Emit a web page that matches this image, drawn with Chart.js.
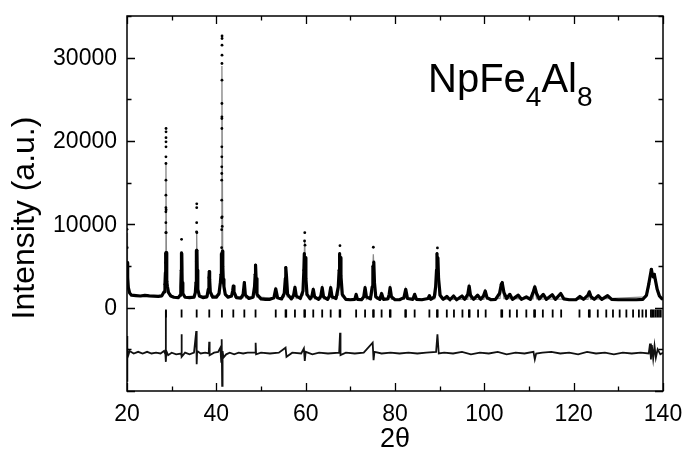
<!DOCTYPE html>
<html>
<head>
<meta charset="utf-8">
<script src="https://cdn.jsdelivr.net/npm/chart.js@4/dist/chart.umd.min.js"></script>
<style>
  html, body { margin: 0; padding: 0; background: #fff; overflow: hidden; }
  #wrap { width: 683px; height: 462px; position: relative; }
</style>
</head>
<body>
<div id="wrap"><canvas id="myChart"></canvas></div>
<script>
// observed profile [2theta, counts] (dots on the tall peaks included)
const obsProfile = [
  [20.0, 9400], [20.04, 7200], [20.08, 5400], [20.15, 3600], [20.3, 2400], [20.6, 1750], [21.0, 1500],
  [22.0, 1450], [23.0, 1400], [24.0, 1480], [25.0, 1420], [26.0, 1380], [27.0, 1350], [27.8, 1420], [28.3, 1900],
  [28.5, 2800], [28.6, 4200], [28.65, 5400], [28.68, 6600], [28.69, 9000], [28.7, 10200], [28.7, 11500],
  [28.71, 12000], [28.71, 13500], [28.72, 15300], [28.72, 17300], [28.72, 18100], [28.73, 19300], [28.73, 19900],
  [28.73, 20400], [28.74, 21100], [28.74, 21500], [28.76, 11750], [28.77, 9000], [28.79, 6600], [28.85, 4200],
  [28.95, 3150], [29.05, 2550], [29.3, 1800], [29.8, 1400], [30.5, 1250], [31.5, 1200], [31.9, 1500],
  [32.05, 2500], [32.15, 4500], [32.2, 6600], [32.22, 8200], [32.25, 6500], [32.35, 3000], [32.5, 1700],
  [33.0, 1250], [34.0, 1200], [35.0, 1250], [35.3, 1800],
  [35.45, 3000], [35.52, 5500], [35.56, 6900], [35.58, 9100], [35.6, 10200], [35.61, 12000], [35.62, 12460],
  [35.64, 9000], [35.66, 6900], [35.72, 4500], [35.85, 2200], [36.2, 1400], [37.0, 1200], [37.9, 1300],
  [38.2, 2200], [38.35, 3600], [38.42, 4330], [38.5, 3400], [38.65, 1900], [39.2, 1250], [40.0, 1250],
  [40.6, 1700], [40.9, 3000],
  [41.05, 4000], [41.12, 5000], [41.16, 6500], [41.18, 7200], [41.2, 9360], [41.2, 10800], [41.21, 12900],
  [41.21, 15300], [41.22, 16100], [41.22, 16900], [41.23, 18100], [41.23, 19300], [41.24, 21500], [41.24, 22700],
  [41.25, 22900], [41.25, 24500], [41.26, 27300], [41.26, 29300], [41.27, 30300], [41.27, 31500], [41.28, 32300],
  [41.28, 32600], [41.3, 10900], [41.32, 9750], [41.36, 6800], [41.45, 4950], [41.55, 3400], [41.7, 2550],
  [42.0, 1600], [42.6, 1250], [43.4, 1400],
  [43.65, 2000], [43.8, 2600], [43.95, 1900], [44.5, 1200], [45.5, 1150], [46.0, 1600], [46.27, 3000],
  [46.5, 1500], [47.3, 1100], [48.2, 1250], [48.55, 2500], [48.7, 4000], [48.78, 5100], [48.9, 3500],
  [49.1, 1600], [50.0, 1050], [51.0, 1000], [52.0, 1000], [52.9, 1200], [53.3, 2250], [53.7, 1200],
  [54.6, 1050], [55.2, 1700], [55.45, 3500], [55.55, 4800], [55.7, 3800], [55.95, 1600], [56.8, 1050],
  [57.3, 1500], [57.6, 2450], [57.9, 1400], [58.8, 1100], [59.4, 2000], [59.6, 4500], [59.7, 6500],
  [59.75, 8000], [59.8, 9000], [59.85, 7500], [59.9, 6000], [60.05, 3500], [60.3, 1600], [61.0, 1050],
  [61.4, 1400], [61.7, 2200], [62.0, 1300], [62.9, 1000], [63.4, 1400], [63.7, 2400], [64.0, 1300],
  [64.9, 1000], [65.3, 1400], [65.6, 2400], [65.9, 1300], [66.8, 1100], [67.3, 2500], [67.5, 4500],
  [67.6, 6500], [67.68, 7440], [67.78, 6000], [67.9, 3800], [68.2, 1600], [69.0, 1000], [70.0, 950],
  [71.0, 1000], [71.3, 1600], [71.6, 1000], [72.5, 950], [73.0, 1300], [73.3, 2400], [73.6, 1300],
  [74.5, 1050], [74.9, 2500], [75.05, 5000], [75.15, 7250], [75.25, 5500], [75.4, 3000], [75.7, 1300],
  [76.6, 1000], [77.0, 1700], [77.4, 1000], [78.4, 1050], [78.7, 1600], [78.9, 2400], [79.2, 1300],
  [80.0, 950], [81.0, 950], [82.0, 1200], [82.4, 2200], [82.8, 1100], [84.0, 1000], [84.4, 1600],
  [84.8, 1000], [86.0, 950], [87.4, 1100], [87.7, 1450], [88.0, 1000], [88.8, 1300], [89.1, 2500],
  [89.3, 4500], [89.4, 6500], [89.5, 7170], [89.6, 6000], [89.75, 3500], [90.1, 1500], [90.8, 1000],
  [91.6, 1350], [92.3, 950], [93.1, 1400], [93.8, 950], [95.0, 1400], [95.6, 1000], [96.3, 1600],
  [96.6, 2600], [96.9, 1500], [97.6, 1000], [98.5, 1500], [99.2, 1000], [99.8, 1400], [100.2, 2000],
  [100.6, 1200], [101.5, 950], [102.5, 1000], [103.4, 1700], [103.8, 2800], [104.0, 3000], [104.4, 1800],
  [105.0, 1100], [105.7, 1600], [106.3, 1000], [107.6, 1500], [108.3, 1000], [109.4, 1300], [110.3, 1000],
  [110.9, 1800], [111.3, 2500], [111.7, 1700], [112.3, 1050], [113.2, 1600], [113.9, 1000], [115.2, 1550],
  [115.9, 1000], [117.1, 1700], [117.8, 1050], [119.0, 950], [120.5, 950], [121.4, 1350], [122.2, 1000],
  [123.2, 1500], [123.5, 1900], [123.9, 1300], [124.6, 1000], [125.5, 1450], [126.3, 1000], [127.6, 1450],
  [128.5, 1000], [130.0, 950], [132.0, 950], [134.0, 950], [135.5, 1000], [136.3, 1500], [136.8, 2800],
  [137.2, 4000], [137.4, 4600], [137.6, 4000], [137.8, 3700], [138.05, 4000], [138.3, 3300], [138.7, 2200],
  [139.2, 1400], [139.7, 1100], [140.0, 1000]
];

// calculated profile (grey line)
const calcProfile = [
  [20.0, 9000], [20.1, 5000], [20.3, 2600], [20.6, 1700], [21.5, 1450], [25.0, 1400], [27.8, 1400],
  [28.4, 2000], [28.6, 4000], [28.72, 17400], [28.85, 3500], [29.2, 1800], [30.5, 1250], [31.8, 1300],
  [32.05, 2300], [32.2, 6600], [32.35, 2500], [32.8, 1300], [35.2, 1400], [35.45, 2800], [35.6, 9100],
  [35.75, 2800], [36.2, 1400], [38.1, 1400], [38.42, 3600], [38.7, 1400], [40.7, 1500], [41.05, 3500],
  [41.25, 29000], [41.45, 3500], [41.9, 1600], [43.5, 1300], [43.8, 2400], [44.1, 1250], [46.0, 1200],
  [46.27, 2800], [46.55, 1200], [48.5, 1300], [48.78, 4300], [49.05, 1300], [53.0, 1100], [53.3, 2100],
  [53.6, 1100], [55.25, 1300], [55.55, 4300], [55.85, 1300], [57.3, 1100], [57.6, 2300], [57.9, 1100],
  [59.45, 1500], [59.78, 8000], [60.1, 1500], [61.4, 1100], [61.7, 2100], [62.0, 1050], [63.4, 1050],
  [63.7, 2300], [64.0, 1050], [65.3, 1050], [65.6, 2300], [65.9, 1050], [67.35, 1500], [67.68, 6300],
  [68.05, 1400], [68.8, 1000], [72.9, 1000], [73.3, 2300], [73.6, 1000], [74.85, 1500], [75.15, 6400],
  [75.45, 1400], [76.0, 1000], [78.6, 1000], [78.9, 2300], [79.2, 1000], [82.1, 1000], [82.4, 2100],
  [82.7, 1000], [88.9, 1050], [89.15, 1600], [89.5, 5800], [89.85, 1500], [90.5, 1000], [96.3, 1000],
  [96.6, 2400], [96.9, 1000], [99.9, 1000], [100.2, 1900], [100.5, 1000], [103.5, 1100], [103.95, 2800],
  [104.4, 1100], [110.9, 1050], [111.3, 2400], [111.7, 1050], [123.2, 1000], [123.5, 1800], [123.8, 1000],
  [136.3, 1300], [136.9, 2600], [137.4, 4300], [137.8, 3600], [138.1, 3900], [138.8, 1700], [139.5, 1100],
  [140.0, 1000]
];

// Bragg reflection positions (2theta)
const braggPos = [
  28.72, 32.22, 35.6, 38.42, 41.25, 43.8, 46.27, 48.78, 53.3, 55.5, 55.65, 57.6, 59.7, 59.85, 61.7, 63.7,
  65.6, 67.6, 67.75, 71.3, 73.3, 75.1, 75.25, 77.0, 78.85, 79.0, 82.3, 82.45, 84.4, 87.7, 89.4, 89.55,
  91.6, 93.2, 95.1, 96.55, 96.7, 98.6, 100.3, 103.8, 104.0, 105.7, 107.3, 109.4, 111.15, 111.35, 113.1,
  115.3, 117.2, 121.3, 123.4, 123.6, 125.4, 127.3, 128.8, 130.3, 131.8, 133.3, 134.6, 135.4, 136.2, 137.3,
  137.6, 137.9, 138.3, 138.7, 139.1, 139.5
];
const braggLevel = -700;

// difference curve (obs - calc, offset)
const diffProfile = [
  [20.0, -3400], [20.05, -8900], [20.1, -4800], [20.3, -5700], [20.6, -5200], [21.5, -5500], [22.5, -5300],
  [23.5, -5500], [24.5, -5300], [25.5, -5500], [26.5, -5400], [27.5, -5500], [28.3, -5200], [28.6, -5600],
  [28.68, -300], [28.72, -6500], [28.8, -5200], [29.2, -5700], [30.0, -5400], [31.0, -5600], [32.1, -5500],
  [32.2, -3200], [32.28, -5900], [33.0, -5400], [34.0, -5600], [35.0, -5400], [35.5, -2800], [35.6, -6800],
  [35.7, -5200], [36.5, -5500], [37.5, -5400], [38.3, -5500], [38.4, -4100], [38.5, -5700], [39.5, -5400],
  [40.4, -5300], [40.9, -4800], [41.1, -6500], [41.2, -3800], [41.3, -9370], [41.4, -5200], [41.6, -6000],
  [42.2, -5600], [43.0, -5400], [44.0, -5600], [45.0, -5400], [46.0, -5500], [47.0, -5400], [48.7, -5400],
  [48.8, -4200], [48.9, -5600], [50.0, -5400], [52.0, -5500], [54.0, -5400], [55.5, -4800], [55.7, -5900],
  [57.0, -5400], [59.0, -5500], [59.6, -4900], [59.8, -6400], [60.0, -5300], [61.5, -5600], [63.0, -5400],
  [65.0, -5500], [67.5, -5400], [67.7, -3000], [67.8, -5700], [69.0, -5400], [71.0, -5500], [73.0, -5400],
  [75.0, -4200], [75.2, -6300], [75.4, -5300], [77.0, -5500], [79.0, -5400], [81.0, -5500], [83.0, -5400],
  [85.0, -5500], [87.0, -5400], [89.2, -5300], [89.5, -3200], [89.8, -5500], [91.0, -5400], [93.0, -5500],
  [95.0, -5300], [97.0, -5600], [99.0, -5400], [101.0, -5500], [103.0, -5300], [105.0, -5600], [107.0, -5400],
  [109.0, -5500], [111.0, -5300], [111.3, -6200], [111.6, -5500], [113.0, -5400], [115.0, -5300],
  [117.0, -5500], [119.0, -5400], [121.0, -5600], [123.0, -5300], [125.0, -5500], [127.0, -5400],
  [129.0, -5600], [131.0, -5400], [133.0, -5500], [135.0, -5400], [136.8, -5500], [137.1, -4300],
  [137.3, -6200], [137.5, -4500], [137.8, -6100], [138.1, -4600], [138.4, -6000], [138.8, -5000],
  [139.4, -5600], [140.0, -5400]
];

// labelled intensity ticks
const yTickLabels = [0, 10000, 20000, 30000];

const FONT = 'Arial, "Liberation Sans", sans-serif';
const toXY = arr => arr.map(([x, y]) => ({ x, y }));

// frame, inward ticks, y labels, y title and compound label
const framePlugin = {
  id: 'frame',
  afterDraw(chart) {
    const { ctx, chartArea: a, scales } = chart;
    ctx.save();
    ctx.strokeStyle = '#000';
    ctx.lineWidth = 1.5;
    ctx.strokeRect(a.left, a.top, a.right - a.left, a.bottom - a.top);
    ctx.lineWidth = 1.3;
    ctx.beginPath();
    for (let v = 20; v <= 140; v += 10) {
      const px = Math.round(scales.x.getPixelForValue(v)) + 0.5;
      const len = v % 20 === 0 ? 8 : 4.5;
      ctx.moveTo(px, a.bottom); ctx.lineTo(px, a.bottom - len);
      ctx.moveTo(px, a.top); ctx.lineTo(px, a.top + len);
    }
    for (let v = -10000; v <= 35000; v += 5000) {
      const py = Math.round(scales.y.getPixelForValue(v)) + 0.5;
      const len = v % 10000 === 0 ? 8 : 4.5;
      ctx.moveTo(a.left, py); ctx.lineTo(a.left + len, py);
      ctx.moveTo(a.right, py); ctx.lineTo(a.right - len, py);
    }
    ctx.stroke();

    ctx.fillStyle = '#000';
    ctx.font = '23px ' + FONT;
    ctx.textAlign = 'right';
    ctx.textBaseline = 'middle';
    for (const v of yTickLabels) {
      ctx.fillText(String(v), a.left - 10, scales.y.getPixelForValue(v) + 1);
    }

    // y axis title
    ctx.save();
    ctx.translate(25, a.top + 202);
    ctx.rotate(-Math.PI / 2);
    ctx.textAlign = 'center';
    ctx.textBaseline = 'middle';
    ctx.font = '32px ' + FONT;
    ctx.fillText('Intensity (a.u.)', 0, 0);
    ctx.restore();

    // compound name with subscripts
    ctx.textAlign = 'left';
    ctx.textBaseline = 'alphabetic';
    let x = a.left + 301;
    const base = a.top + 76;
    const parts = [['NpFe', 40, 0], ['4', 28, 14], ['Al', 40, 0], ['8', 28, 14]];
    for (const [t, size, dy] of parts) {
      ctx.font = size + 'px ' + FONT;
      ctx.fillText(t, x, base + dy);
      x += ctx.measureText(t).width;
    }
    ctx.restore();
  }
};

new Chart(document.getElementById('myChart'), {
  type: 'scatter',
  data: {
    datasets: [
      {
        label: 'Observed',
        data: toXY(obsProfile),
        showLine: true,
        borderColor: '#000',
        borderWidth: 3.2,
        borderJoinStyle: 'round',
        segment: {
          borderColor: ctx => Math.max(ctx.p0.parsed.y, ctx.p1.parsed.y) > 7000 ? 'rgba(0,0,0,0)' : '#000'
        },
        pointRadius: ctx => (ctx.raw && ctx.raw.y > 2700 ? 1.4 : 0),
        pointBackgroundColor: '#000',
        pointBorderWidth: 0
      },
      {
        label: 'Calculated',
        data: toXY(calcProfile),
        showLine: true,
        borderColor: '#8a8a8a',
        borderWidth: 1.3,
        pointRadius: 0
      },
      {
        label: 'Bragg',
        data: braggPos.map(p => ({ x: p, y: braggLevel })),
        pointStyle: 'line',
        rotation: 90,
        pointRadius: 4,
        borderColor: '#000',
        borderWidth: 1.8
      },
      {
        label: 'Difference',
        data: toXY(diffProfile),
        showLine: true,
        borderColor: '#111',
        borderWidth: 1.8,
        pointRadius: 0
      }
    ]
  },
  options: {
    responsive: true,
    maintainAspectRatio: false,
    animation: false,
    layout: { padding: { top: 16, right: 20, left: 0, bottom: 0 } },
    plugins: {
      legend: { display: false },
      tooltip: { enabled: false }
    },
    scales: {
      x: {
        type: 'linear',
        min: 20,
        max: 140,
        grid: { display: false, drawTicks: false },
        border: { display: false },
        ticks: {
          stepSize: 20,
          padding: 10,
          color: '#000',
          font: { family: FONT, size: 23 },
          callback: v => String(v)
        },
        title: {
          display: true,
          text: '2θ',
          color: '#000',
          font: { family: FONT, size: 27 },
          padding: { top: 4, bottom: 6 }
        },
        afterFit: s => { s.height = 71; s.paddingLeft = 0; s.paddingRight = 0; }
      },
      y: {
        min: -10000,
        max: 35000,
        grid: { display: false, drawTicks: false },
        border: { display: false },
        ticks: { display: false, stepSize: 10000 },
        afterFit: s => { s.width = 127; s.paddingTop = 0; s.paddingBottom = 0; }
      }
    }
  },
  plugins: [framePlugin]
});
</script>
</body>
</html>
